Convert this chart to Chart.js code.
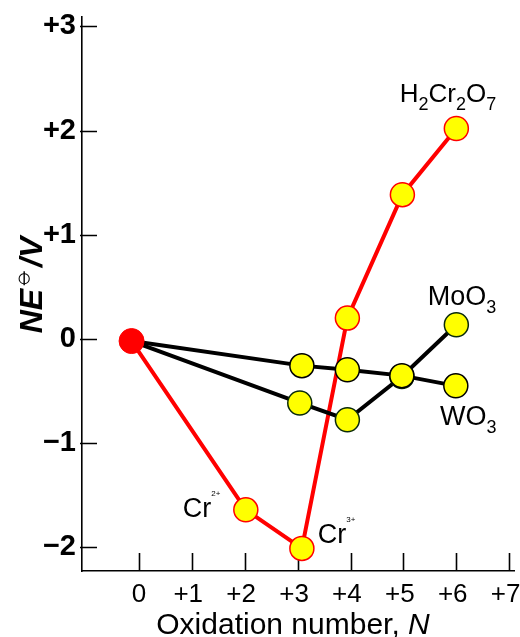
<!DOCTYPE html>
<html>
<head>
<meta charset="utf-8">
<script src="https://cdn.jsdelivr.net/npm/chart.js@4.4.1/dist/chart.umd.min.js"></script>
<style>
  html, body { margin: 0; padding: 0; background: #fff; overflow: hidden; }
  #wrap { width: 520px; height: 637px; }
</style>
</head>
<body>
<div id="wrap"><canvas id="frost"></canvas></div>
<script>
// oxidation number N and volt-equivalent NE (V)
var crN   = [-0.14, 2.02, 3.08, 3.94, 4.98, 6.0];
var crNE  = [-0.02, -1.64, -2.01, 0.20, 1.385, 2.02];
var wN    = [-0.14, 3.08, 3.94, 4.97, 5.99];
var wNE   = [-0.02, -0.256, -0.295, -0.352, -0.45];
var moN   = [-0.14, 3.04, 3.94, 4.97, 6.0];
var moNE  = [-0.02, -0.614, -0.775, -0.36, 0.137];

var xTickValues = [0, 1, 2, 3, 4, 5, 6, 7];
var xTickLabels = ['0', '+1 ', '+2 ', '+3 ', '+4 ', '+5 ', '+6 ', '+7 '];
var yTickValues = [-2, -1, 0, 1, 2, 3];
var yTickLabels = ['\u22122', '\u22121', '0', '+1', '+2', '+3'];

var FONT = '"Liberation Sans", Arial, sans-serif';

function pts(xs, ys) {
  return xs.map(function(x, i) { return {x: x, y: ys[i]}; });
}

// labels may hang over the plot edges, don't let them shrink it
function noPadding(s) {
  s.getPadding = function() { return {left: 0, top: 0, right: 0, bottom: 0}; };
}

// tick marks point inwards, so draw them ourselves
var innerTicks = {
  id: 'innerTicks',
  beforeDatasetsDraw: function(chart) {
    var ctx = chart.ctx, x = chart.scales.x, y = chart.scales.y;
    var a = chart.chartArea;
    ctx.save();
    ctx.strokeStyle = '#000';
    ctx.lineWidth = 1.6;
    ctx.beginPath();
    xTickValues.forEach(function(v) {
      var px = Math.round(x.getPixelForValue(v)) + 0.5;
      ctx.moveTo(px, a.bottom);
      ctx.lineTo(px, a.bottom - 18);
    });
    yTickValues.forEach(function(v) {
      var py = Math.round(y.getPixelForValue(v)) + 0.5;
      ctx.moveTo(a.left - 2, py);
      ctx.lineTo(a.left + 15, py);
    });
    ctx.stroke();
    ctx.restore();
  }
};

// axis titles and species labels
var labels = {
  id: 'labels',
  afterDraw: function(chart) {
    var ctx = chart.ctx, x = chart.scales.x, y = chart.scales.y;
    ctx.save();
    ctx.fillStyle = '#000';
    ctx.textBaseline = 'alphabetic';

    // x title
    ctx.font = '30px ' + FONT;
    var t1 = 'Oxidation number, ';
    var w1 = ctx.measureText(t1).width;
    ctx.font = 'italic 30px ' + FONT;
    var w2 = ctx.measureText('N').width;
    var sx = 293 - (w1 + w2) / 2;
    ctx.font = '30px ' + FONT;
    ctx.fillText(t1, sx, 634);
    ctx.font = 'italic 30px ' + FONT;
    ctx.fillText('N', sx + w1, 634);

    // y title, rotated
    ctx.save();
    ctx.translate(42, 285);
    ctx.rotate(-Math.PI / 2);
    ctx.font = 'bold italic 32px ' + FONT;
    var wa = ctx.measureText('NE').width;
    var wc = ctx.measureText('/V').width;
    ctx.font = '26px "DejaVu Sans", sans-serif';
    var wb = ctx.measureText('\u29B5').width;
    var tx = -(wa + wb + wc) / 2;
    ctx.font = 'bold italic 32px ' + FONT;
    ctx.fillText('NE', tx, 0);
    ctx.font = '26px "DejaVu Sans", sans-serif';
    ctx.fillText('\u29B5', tx + wa, -12);
    ctx.font = 'bold italic 32px ' + FONT;
    ctx.fillText('/V', tx + wa + wb, 0);
    ctx.restore();

    function formula(parts, vx, vy, size) {
      var px = x.getPixelForValue(vx), py = y.getPixelForValue(vy);
      parts.forEach(function(p) {
        var s = p[1] ? Math.round(size * 0.68) : size;
        ctx.font = s + 'px ' + FONT;
        var dy = p[1] === 'sub' ? 8 : (p[1] === 'sup' ? -size * 0.75 : 0);
        if (p[1] === 'sup') { ctx.font = '8px ' + FONT; }
        ctx.fillText(p[0], px, py + dy);
        px += ctx.measureText(p[0]).width;
      });
    }
    formula([['H'], ['2', 'sub'], ['Cr'], ['2', 'sub'], ['O'], ['7', 'sub']], 4.93, 2.27, 26);
    formula([['MoO'], ['3', 'sub']], 5.46, 0.33, 27);
    formula([['WO'], ['3', 'sub']], 5.69, -0.83, 27);
    formula([['Cr'], ['2+', 'sup']], 0.83, -1.705, 27);
    formula([['Cr'], ['3+', 'sup']], 3.38, -1.955, 27);
    ctx.restore();
  }
};

new Chart(document.getElementById('frost'), {
  type: 'scatter',
  data: {
    datasets: [{
      // element in its standard state
      data: pts([crN[0]], [crNE[0]]),
      pointRadius: 12.5,
      pointBackgroundColor: '#ff0000',
      pointBorderColor: '#ff0000',
      pointBorderWidth: 1
    }, {
      label: 'WO3',
      data: pts(wN, wNE),
      showLine: true,
      borderColor: '#000000',
      borderWidth: 4,
      pointRadius: [0, 12, 12, 12, 12],
      pointBackgroundColor: '#ffff00',
      pointBorderColor: '#000000',
      pointBorderWidth: 1.5
    }, {
      label: 'MoO3',
      data: pts(moN, moNE),
      showLine: true,
      borderColor: '#000000',
      borderWidth: 4,
      pointRadius: [0, 12, 12, 12, 12],
      pointBackgroundColor: '#ffff00',
      pointBorderColor: '#0a2a0a',
      pointBorderWidth: 1.5
    }, {
      label: 'Cr',
      data: pts(crN, crNE),
      showLine: true,
      borderColor: '#ff0000',
      borderWidth: 4,
      pointRadius: [0, 12, 12, 12, 12, 12],
      pointBackgroundColor: '#ffff00',
      pointBorderColor: '#ff0000',
      pointBorderWidth: 1.5
    }]
  },
  options: {
    responsive: true,
    maintainAspectRatio: false,
    animation: false,
    events: [],
    layout: { autoPadding: false, padding: { top: 17, right: 6, left: 0, bottom: 0 } },
    plugins: { legend: { display: false }, tooltip: { enabled: false } },
    scales: {
      x: {
        type: 'linear',
        min: -1.077,
        max: 7.09,
        grid: { display: false, drawTicks: false, tickLength: 0 },
        border: { display: true, color: '#000', width: 1.6 },
        afterBuildTicks: function(s) { s.ticks = xTickValues.map(function(v) { return {value: v}; }); },
        afterFit: function(s) { s.height = 66; noPadding(s); },
        ticks: {
          color: '#000',
          padding: 8,
          maxRotation: 0,
          font: { family: FONT, size: 26 },
          callback: function(v) { return xTickLabels[xTickValues.indexOf(v)]; }
        }
      },
      y: {
        type: 'linear',
        min: -2.227,
        max: 3.09,
        grid: { display: false, drawTicks: false, tickLength: 0 },
        border: { display: true, color: '#000', width: 1.6 },
        afterBuildTicks: function(s) { s.ticks = yTickValues.map(function(v) { return {value: v}; }); },
        afterFit: function(s) { s.width = 82; noPadding(s); },
        ticks: {
          color: '#000',
          padding: 6,
          font: { family: FONT, size: 29, weight: 'bold' },
          callback: function(v) { return yTickLabels[yTickValues.indexOf(v)]; }
        }
      }
    }
  },
  plugins: [innerTicks, labels]
});
</script>
</body>
</html>
